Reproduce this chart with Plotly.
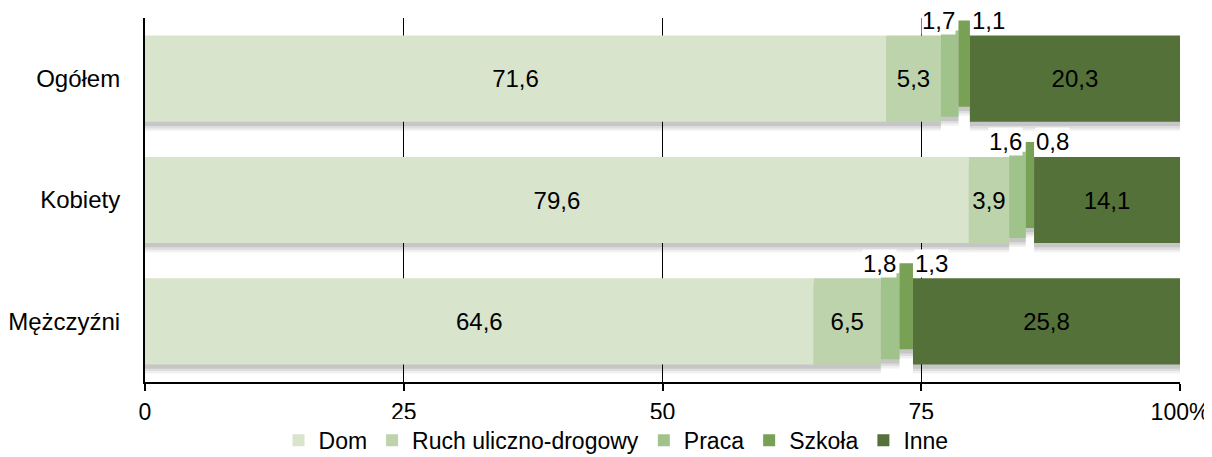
import plotly.graph_objects as go

categories = ["Ogółem", "Kobiety", "Mężczyźni"]
series_names = ["Dom", "Ruch uliczno-drogowy", "Praca", "Szkoła", "Inne"]
dom = [71.6, 79.6, 64.6]
ruch = [5.3, 3.9, 6.5]
praca = [1.7, 1.6, 1.8]
szkola = [1.1, 0.8, 1.3]
inne = [20.3, 14.1, 25.8]
x_tickvals = [0, 25, 50, 75, 100]
x_ticktext = ["0", "25", "50", "75", "100%"]

colors = ["#D8E4CC", "#BDD3AC", "#A0C38B", "#78A156", "#54713A"]
series = [dom, ruch, praca, szkola, inne]
inside_label = [True, True, False, False, True]

ypos = list(range(len(categories)))
BAR_W = 0.71
# vertical raise (axis units) of each segment, as in the original
raise_by = [0.0, 0.0, 0.042, 0.124, 0.0]

FONT = "Liberation Sans, Arial, sans-serif"
FS = 24

fig = go.Figure()

bases = []
cum = [0.0] * len(categories)
for s in series:
    bases.append(cum[:])
    cum = [c + v for c, v in zip(cum, s)]

# soft drop shadows (drawn first, below the bars)
for shift, alpha in [(0.075, 0.06), (0.055, 0.08), (0.035, 0.10)]:
    for s, b, r in zip(series, bases, raise_by):
        fig.add_trace(go.Bar(
            y=ypos, x=s, base=b, orientation="h",
            width=BAR_W, offset=-BAR_W / 2 - r + shift,
            marker=dict(color=f"rgba(0,0,0,{alpha})", line=dict(width=0)),
            showlegend=False, hoverinfo="skip",
        ))

for name, s, b, r, col, lab in zip(series_names, series, bases, raise_by, colors, inside_label):
    fig.add_trace(go.Bar(
        y=ypos, x=s, base=b, orientation="h", name=name,
        width=BAR_W, offset=-BAR_W / 2 - r,
        marker=dict(color=col, line=dict(width=0)),
        text=[f"{v:.1f}".replace(".", ",") for v in s] if lab else None,
        textposition="inside" if lab else "none",
        insidetextanchor="middle",
        textfont=dict(family=FONT, size=FS, color="black"),
        constraintext="none",
        hoverinfo="skip",
    ))

# labels for the small segments (Praca, Szkoła) above the bars
for i in ypos:
    end_praca = bases[2][i] + praca[i]
    end_szk = bases[3][i] + szkola[i]
    fig.add_annotation(x=end_praca, y=i - 0.48, xref="x", yref="y",
                       text=f"{praca[i]:.1f}".replace(".", ","), showarrow=False,
                       xanchor="right", yanchor="middle", xshift=-3,
                       font=dict(family=FONT, size=FS, color="black"),
                       bgcolor="white", borderpad=0)
    fig.add_annotation(x=end_szk, y=i - 0.48, xref="x", yref="y",
                       text=f"{szkola[i]:.1f}".replace(".", ","), showarrow=False,
                       xanchor="left", yanchor="middle", xshift=1,
                       font=dict(family=FONT, size=FS, color="black"),
                       bgcolor="white", borderpad=0)

# the page body adds an 8px margin, so the figure is 8px smaller than the window
fig.update_layout(
    width=1204, height=449,
    margin=dict(l=137, r=32, t=10, b=75, autoexpand=False),
    barmode="overlay",
    paper_bgcolor="white", plot_bgcolor="white",
    font=dict(family=FONT, size=FS, color="black"),
    showlegend=True,
    legend=dict(orientation="h", xref="container", x=0.505, xanchor="center",
                yref="paper", y=-0.160, yanchor="middle",
                font=dict(family=FONT, size=23, color="black"),
                itemwidth=30, tracegroupgap=0, traceorder="normal"),
)
fig.update_xaxes(
    range=[0, 100], tickvals=x_tickvals, ticktext=x_ticktext,
    showgrid=True, gridcolor="black", gridwidth=1.3,
    showline=True, linecolor="black", linewidth=2,
    ticks="outside", ticklen=7, tickcolor="black", tickwidth=1.5,
    zeroline=False, ticklabelstandoff=1,
    tickfont=dict(family=FONT, size=23, color="black"),
)
fig.update_yaxes(
    range=[2.5, -0.5], tickvals=ypos, ticktext=categories,
    showgrid=False, zeroline=False,
    showline=True, linecolor="black", linewidth=2,
    ticks="", ticklabelstandoff=18,
    tickfont=dict(family=FONT, size=FS, color="black"),
)

fig.write_html("out.html")
